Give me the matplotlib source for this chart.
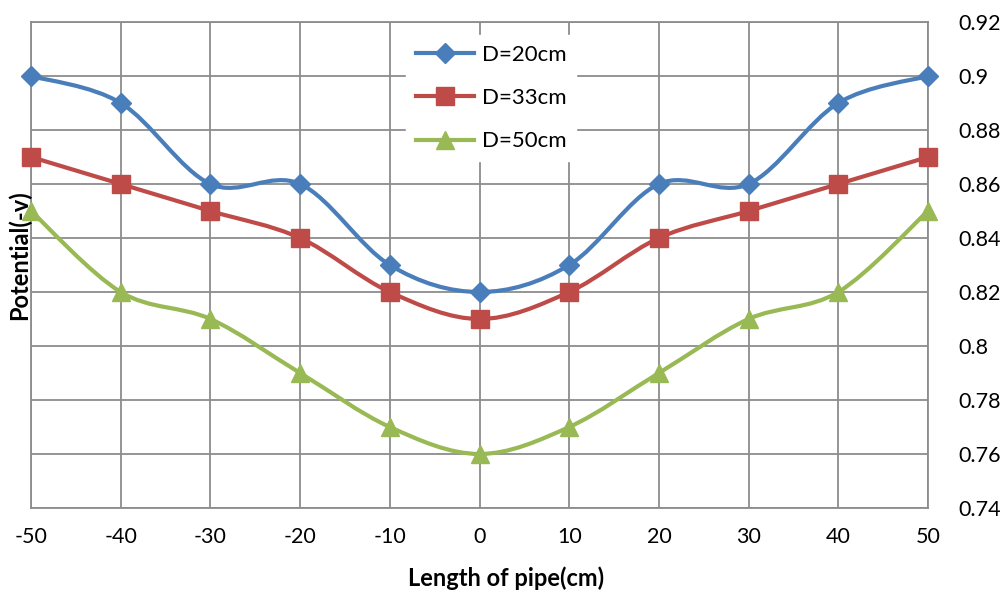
import matplotlib
matplotlib.use("Agg")
import matplotlib.pyplot as plt
import numpy as np
from matplotlib.path import Path
from matplotlib.patches import PathPatch
from matplotlib.lines import Line2D

x = [-50, -40, -30, -20, -10, 0, 10, 20, 30, 40, 50]
d20 = [0.90, 0.89, 0.86, 0.86, 0.83, 0.82, 0.83, 0.86, 0.86, 0.89, 0.90]
d33 = [0.87, 0.86, 0.85, 0.84, 0.82, 0.81, 0.82, 0.84, 0.85, 0.86, 0.87]
d50 = [0.85, 0.82, 0.81, 0.79, 0.77, 0.76, 0.77, 0.79, 0.81, 0.82, 0.85]
labels = ["D=20cm", "D=33cm", "D=50cm"]
yticks = [0.74, 0.76, 0.78, 0.80, 0.82, 0.84, 0.86, 0.88, 0.90, 0.92]
ytick_labels = ["0.74", "0.76", "0.78", "0.8", "0.82", "0.84", "0.86", "0.88", "0.9", "0.92"]

colors = ["#4A7EBB", "#BE4B48", "#98B954"]
markers = ["D", "s", "^"]
msizes = [10.5, 12.5, 12.5]

plt.rcParams['font.family'] = ['Lato', 'DejaVu Sans']

fig = plt.figure(figsize=(10.05, 5.96), dpi=100)
ax = fig.add_axes([31/1005, 1-508/596, (928-31)/1005, (508-22)/596])


def smooth_path(xs, ys):
    # Bezier path (Excel-style smoothed line) through the data points
    xs = np.asarray(xs, float); ys = np.asarray(ys, float)
    n = len(xs)
    verts = [(xs[0], ys[0])]
    codes = [Path.MOVETO]
    for i in range(n - 1):
        p0 = np.array([xs[max(i-1, 0)], ys[max(i-1, 0)]])
        p1 = np.array([xs[i], ys[i]])
        p2 = np.array([xs[i+1], ys[i+1]])
        p3 = np.array([xs[min(i+2, n-1)], ys[min(i+2, n-1)]])
        c1 = p1 + (p2 - p0) / 6.0
        c2 = p2 - (p3 - p1) / 6.0
        verts += [tuple(c1), tuple(c2), tuple(p2)]
        codes += [Path.CURVE4] * 3
    return Path(verts, codes)


for ys, c, m, ms in zip([d20, d33, d50], colors, markers, msizes):
    patch = PathPatch(smooth_path(x, ys), facecolor='none', edgecolor=c,
                      lw=3.0, zorder=3, capstyle='round', joinstyle='round')
    ax.add_patch(patch)
    ax.plot(x, ys, linestyle='none', marker=m, markersize=ms, color=c,
            markeredgecolor=c, zorder=4, clip_on=False)

ax.set_xlim(-50, 50)
ax.set_ylim(0.74, 0.92)
ax.set_xticks(x)
ax.set_xticklabels([str(v) for v in x], fontsize=15.5)
ax.set_yticks(yticks)
ax.set_yticklabels(ytick_labels, fontsize=15.5)
ax.yaxis.tick_right()
ax.tick_params(axis='both', length=0)
ax.tick_params(axis='x', pad=14)
ax.tick_params(axis='y', pad=22)
ax.grid(True, color='#8C8C8C', lw=1.3, zorder=1)
for s in ax.spines.values():
    s.set_color('#8C8C8C')
    s.set_linewidth(1.3)

fig.text(506/1005, 1-578/596, "Length of pipe(cm)", ha='center', va='center',
         fontsize=17, fontweight='bold')
fig.text(19/1005, 1-255/596, "Potential(-v)", ha='center', va='center',
         rotation=90, fontsize=17, fontweight='bold')

handles = [Line2D([], [], color=c, lw=3.0, marker=m, markersize=ms)
           for c, m, ms in zip(colors, markers, msizes)]
leg = ax.legend(handles, labels, loc='center', bbox_to_anchor=(0.513, 0.8436),
                fontsize=16, frameon=True, fancybox=False, edgecolor='white',
                framealpha=1, handlelength=2.6, labelspacing=1.05, handletextpad=0.35,
                borderpad=0.45)
leg.set_zorder(5)

fig.savefig("out.png", dpi=100)
